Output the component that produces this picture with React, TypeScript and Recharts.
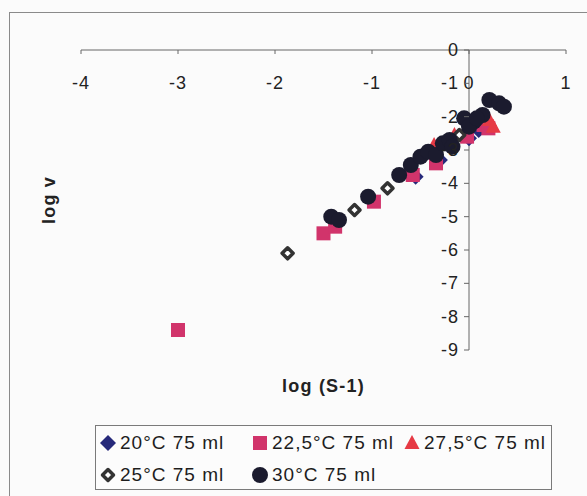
import React from "react";
import {
  ScatterChart,
  Scatter,
  XAxis,
  YAxis,
  ReferenceLine,
  Legend,
} from "recharts";

// values
const x20 = [-0.55, -0.3, 0.0, 0.1];
const y20 = [-3.8, -3.3, -2.65, -2.4];

const x225 = [-3.0, -1.5, -1.38, -0.98, -0.58, -0.34, -0.02, 0.15, 0.2];
const y225 = [-8.4, -5.5, -5.3, -4.55, -3.75, -3.4, -2.6, -2.25, -2.35];

const x275 = [-0.36, -0.15, 0.21, 0.25];
const y275 = [-2.85, -2.55, -2.1, -2.3];

const x25 = [-1.87, -1.18, -0.84, -0.1];
const y25 = [-6.1, -4.8, -4.15, -2.55];

const x30 = [
  -1.42, -1.34, -1.04, -0.72, -0.6, -0.5, -0.42, -0.34, -0.27, -0.2, -0.17,
  -0.05, 0.05, 0.0, 0.14, 0.08, 0.21, 0.31, 0.36,
];
const y30 = [
  -5.0, -5.1, -4.4, -3.75, -3.45, -3.2, -3.05, -3.15, -2.8, -2.7, -2.9, -2.05,
  -2.15, -2.3, -1.95, -2.05, -1.5, -1.6, -1.7,
];

const xTicks = [-4, -3, -2, -1, 0, 1];
const yTicks = [0, -1, -2, -3, -4, -5, -6, -7, -8, -9];

const toPoints = (xs: number[], ys: number[]) =>
  xs.map((x, i) => ({ x, y: ys[i] }));

const W = 587;
const H = 496;
const X_AXIS_H = 30;
const Y_AXIS_W = 60;
const LEGEND_H = 65;
const LABEL_AXIS_H = 42;
const MARGIN = { top: 20, right: 21, left: 21, bottom: 39 };
const PLOT_TOP = MARGIN.top + X_AXIS_H;
const PLOT_LEFT = MARGIN.left + Y_AXIS_W;
const PLOT_W = W - PLOT_LEFT - MARGIN.right;
const XMIN = -4;
const XMAX = 1;
const X0 = PLOT_LEFT + (PLOT_W * (0 - XMIN)) / (XMAX - XMIN);

const FONT = "'Liberation Sans', Arial, sans-serif";

type Kind = "diamond" | "square" | "triangle" | "open" | "circle";

function Marker({ kind, cx, cy, color }: { kind: Kind; cx: number; cy: number; color: string }) {
  if (kind === "circle") return <circle cx={cx} cy={cy} r={8} fill={color} />;
  if (kind === "square")
    return <rect x={cx - 7} y={cy - 7} width={14} height={14} fill={color} />;
  if (kind === "triangle")
    return (
      <polygon
        points={`${cx},${cy - 8} ${cx + 7.5},${cy + 6} ${cx - 7.5},${cy + 6}`}
        fill={color}
      />
    );
  if (kind === "diamond")
    return (
      <polygon
        points={`${cx},${cy - 8} ${cx + 8},${cy} ${cx},${cy + 8} ${cx - 8},${cy}`}
        fill={color}
      />
    );
  return (
    <polygon
      points={`${cx},${cy - 5.5} ${cx + 5.5},${cy} ${cx},${cy + 5.5} ${cx - 5.5},${cy}`}
      fill="#fff"
      stroke={color}
      strokeWidth={3.5}
      strokeLinejoin="round"
    />
  );
}

const series: { name: string; kind: Kind; color: string; data: { x: number; y: number }[] }[] = [
  { name: "20°C 75 ml", kind: "diamond", color: "#26297a", data: toPoints(x20, y20) },
  { name: "22,5°C 75 ml", kind: "square", color: "#d1346b", data: toPoints(x225, y225) },
  { name: "27,5°C 75 ml", kind: "triangle", color: "#e63a45", data: toPoints(x275, y275) },
  { name: "25°C 75 ml", kind: "open", color: "#333333", data: toPoints(x25, y25) },
  { name: "30°C 75 ml", kind: "circle", color: "#1b1b2e", data: toPoints(x30, y30) },
];

const XTick = ({ x, payload }: any) => (
  <g>
    <line x1={x} x2={x} y1={PLOT_TOP} y2={PLOT_TOP + 4} stroke="#666" />
    <text
      x={x}
      y={PLOT_TOP + 39}
      textAnchor="middle"
      fontSize={18}
      letterSpacing={1}
      fill="#222"
      fontFamily={FONT}
    >
      {payload.value}
    </text>
  </g>
);

const YTick = ({ y, payload }: any) => (
  <g>
    <line x1={X0 - 5} x2={X0} y1={y} y2={y} stroke="#666" />
    <text
      x={X0 - 10}
      y={y}
      dy={6}
      textAnchor="end"
      fontSize={18}
      letterSpacing={1}
      fill="#222"
      fontFamily={FONT}
    >
      {payload.value}
    </text>
  </g>
);

const legendCols = [0, 152, 304];

const LegendBox = () => (
  <div
    style={{
      position: "relative",
      width: 457,
      height: LEGEND_H,
      boxSizing: "border-box",
      border: "1.5px solid #7a7a7a",
      background: "#fcfcfc",
      fontFamily: FONT,
      fontSize: 19,
      letterSpacing: 1,
      color: "#1e1e1e",
    }}
  >
    {series.map((s, i) => {
      const col = i < 3 ? i : i - 3;
      const row = i < 3 ? 0 : 1;
      return (
        <div
          key={s.name}
          style={{
            position: "absolute",
            left: legendCols[col] + 3,
            top: row === 0 ? 6 : 38,
            display: "flex",
            alignItems: "center",
            height: 22,
            whiteSpace: "nowrap",
          }}
        >
          <svg width={18} height={18} style={{ marginRight: 3 }}>
            <Marker kind={s.kind} cx={9} cy={9} color={s.color} />
          </svg>
          <span>{s.name}</span>
        </div>
      );
    })}
  </div>
);

export default function App() {
  return (
    <div
      style={{
        position: "absolute",
        left: 0,
        top: 0,
        width: W,
        height: H,
        overflow: "hidden",
        background: "#fbfbfb",
      }}
    >
      <div
        style={{
          position: "absolute",
          left: 9,
          top: 12,
          width: 640,
          height: 560,
          border: "1.5px solid #8a8a8a",
        }}
      />
      <ScatterChart width={W} height={H} margin={MARGIN}>
        <XAxis
          type="number"
          dataKey="x"
          orientation="top"
          domain={[XMIN, XMAX]}
          ticks={xTicks}
          height={X_AXIS_H}
          axisLine={{ stroke: "#666" }}
          tickLine={false}
          tick={<XTick />}
          allowDataOverflow
        />
        <XAxis
          xAxisId="label"
          type="number"
          orientation="bottom"
          domain={[XMIN, XMAX]}
          height={LABEL_AXIS_H}
          axisLine={false}
          tickLine={false}
          tick={false}
          label={{
            value: "log (S-1)",
            position: "insideBottom",
            offset: 0,
            fontSize: 18,
            fontWeight: "bold",
            letterSpacing: 1.2,
            fill: "#222",
            fontFamily: FONT,
          }}
        />
        <YAxis
          type="number"
          dataKey="y"
          domain={[-9, 0]}
          ticks={yTicks}
          width={Y_AXIS_W}
          axisLine={false}
          tickLine={false}
          tick={<YTick />}
          allowDataOverflow
          label={{
            value: "log v",
            angle: -90,
            position: "center",
            dx: -2,
            fontSize: 18,
            fontWeight: "bold",
            letterSpacing: 1.2,
            fill: "#222",
            fontFamily: FONT,
          }}
        />
        <ReferenceLine x={0} stroke="#666" />
        <Legend
          verticalAlign="bottom"
          wrapperStyle={{ top: 425, left: 95, width: 457, height: LEGEND_H }}
          content={() => <LegendBox />}
        />
        {series.map((s) => (
          <Scatter
            key={s.name}
            name={s.name}
            data={s.data}
            isAnimationActive={false}
            shape={(p: any) => <Marker kind={s.kind} cx={p.cx} cy={p.cy} color={s.color} />}
          />
        ))}
      </ScatterChart>
    </div>
  );
}
